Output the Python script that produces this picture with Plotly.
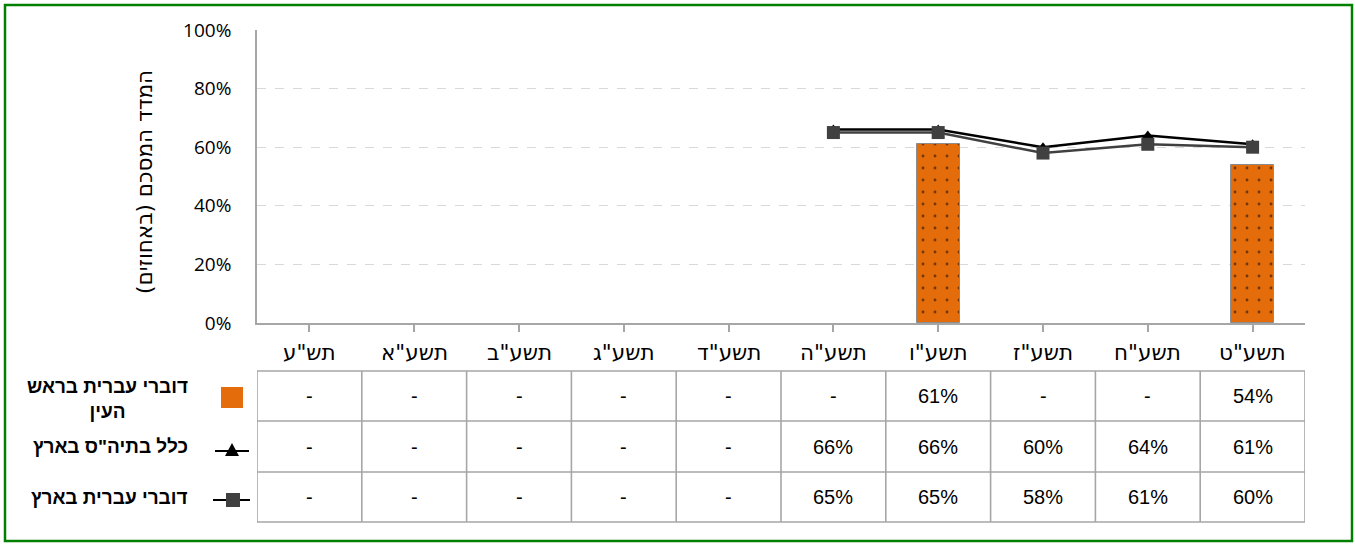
import plotly.graph_objects as go

# School years (Hebrew calendar), left to right
years = ['תש"ע', 'תשע"א', 'תשע"ב', 'תשע"ג', 'תשע"ד', 'תשע"ה', 'תשע"ו', 'תשע"ז', 'תשע"ח', 'תשע"ט']

# Composite index (%) per series; None = no measurement that year
rosh_haayin = [None, None, None, None, None, None, 61, None, None, 54]
all_schools = [None, None, None, None, None, 66, 66, 60, 64, 61]
hebrew_national = [None, None, None, None, None, 65, 65, 58, 61, 60]

series_names = ['דוברי עברית בראש<br>העין', 'כלל בתיה"ס בארץ', 'דוברי עברית בארץ']
y_title = 'המדד המסכם (באחוזים)'
y_ticks = [0, 20, 40, 60, 80, 100]

W, H = 1355, 544
ORANGE = '#E46C0A'
GRID = '#A6A6A6'
FONT = 'Liberation Sans, Arial, sans-serif'
HEB = 'DejaVu Sans, sans-serif'


def px(x):
    return x / W


def py(y):
    return 1 - y / H


x_idx = list(range(len(years)))

fig = go.Figure()

fig.add_trace(go.Bar(
    x=x_idx, y=rosh_haayin, width=0.41,
    marker=dict(color=ORANGE, line=dict(color='#8C8C8C', width=1),
                pattern=dict(shape='.', fgcolor='black', bgcolor=ORANGE,
                             size=12, solidity=0.045, fillmode='overlay')),
    showlegend=False, hoverinfo='skip'))

fig.add_trace(go.Scatter(
    x=x_idx, y=all_schools, mode='lines+markers',
    line=dict(color='black', width=2.5),
    marker=dict(symbol='triangle-up', size=10, color='black'),
    showlegend=False, hoverinfo='skip'))

fig.add_trace(go.Scatter(
    x=x_idx, y=hebrew_national, mode='lines+markers',
    line=dict(color='#404040', width=2.5),
    marker=dict(symbol='square', size=13, color='#404040'),
    showlegend=False, hoverinfo='skip'))

n = len(years)
shapes = []
annotations = []

# Data table rows beneath the axis
row_tops = [371, 421, 472, 522]
for yy in row_tops:
    shapes.append(dict(type='line', xref='x', yref='paper', x0=-0.5, x1=n - 0.5,
                       y0=py(yy), y1=py(yy), line=dict(color=GRID, width=1.6)))
for i in range(n + 1):
    shapes.append(dict(type='line', xref='x', yref='paper', x0=i - 0.5, x1=i - 0.5,
                       y0=py(row_tops[0]), y1=py(row_tops[-1]), line=dict(color=GRID, width=1.6)))

rows = [rosh_haayin, all_schools, hebrew_national]
label_shift = [3, 0, 0]
for r, vals in enumerate(rows):
    yc = (row_tops[r] + row_tops[r + 1]) / 2
    for i, v in enumerate(vals):
        annotations.append(dict(x=i, y=py(yc), xref='x', yref='paper', showarrow=False,
                                yanchor='middle', text='-' if v is None else f'{v}%',
                                font=dict(family=FONT, size=20, color='black')))
    annotations.append(dict(x=px(190), y=py(yc + label_shift[r]), xref='paper', yref='paper',
                            showarrow=False, xanchor='right', yanchor='middle', align='center',
                            text=f'<b>{series_names[r]}</b>',
                            font=dict(family=FONT, size=19, color='black')))

# Category labels
for i, name in enumerate(years):
    annotations.append(dict(x=i, y=py(352), xref='x', yref='paper', showarrow=False,
                            yanchor='middle', text=name,
                            font=dict(family=HEB, size=21.5, color='black')))

# Legend keys inside the table
shapes.append(dict(type='rect', xref='paper', yref='paper', x0=px(221), x1=px(243),
                   y0=py(408), y1=py(387), line=dict(width=0), fillcolor=ORANGE))
shapes.append(dict(type='line', xref='paper', yref='paper', x0=px(215), x1=px(249),
                   y0=py(451), y1=py(451), line=dict(color='black', width=2)))
shapes.append(dict(type='path', xref='paper', yref='paper',
                   path=f'M {px(225)},{py(456)} L {px(239)},{py(456)} L {px(232)},{py(443)} Z',
                   fillcolor='black', line=dict(width=0)))
shapes.append(dict(type='line', xref='paper', yref='paper', x0=px(213), x1=px(250),
                   y0=py(500), y1=py(500), line=dict(color='black', width=2)))
shapes.append(dict(type='rect', xref='paper', yref='paper', x0=px(226), x1=px(240),
                   y0=py(507), y1=py(493), fillcolor='#404040', line=dict(width=0)))

# Outer frame
shapes.append(dict(type='rect', xref='paper', yref='paper', x0=px(5), x1=px(1352),
                   y0=py(541), y1=py(5), line=dict(color='#008000', width=2.5)))

# Y-axis title, rotated
annotations.append(dict(x=px(145), y=py(182), xref='paper', yref='paper', showarrow=False,
                        xanchor='center', yanchor='middle', textangle=-90, text=y_title,
                        font=dict(family=HEB, size=21.5, color='black')))

fig.update_layout(
    width=W, height=H, autosize=False,
    margin=dict(l=0, r=0, t=0, b=0, pad=0),
    paper_bgcolor='white', plot_bgcolor='white',
    shapes=shapes, annotations=annotations,
    bargap=0, font=dict(family=FONT),
    xaxis=dict(domain=[px(257), px(1305)], range=[-0.5, n - 0.5], automargin=False,
               showticklabels=False, showgrid=False, zeroline=False,
               showline=True, linecolor=GRID, linewidth=1.6,
               ticks='outside', tickson='boundaries', ticklen=7, tickcolor=GRID,
               tickwidth=1.6, tickvals=x_idx),
    yaxis=dict(domain=[py(323), py(30)], range=[0, 100], automargin=False,
               tickvals=y_ticks, ticktext=[f'{t}%' for t in y_ticks],
               tickfont=dict(family='Open Sans, sans-serif', size=19, color='black'),
               ticklabelstandoff=20,
               showgrid=True, gridcolor='#D9D9D9', griddash='dash', gridwidth=1,
               showline=True, linecolor=GRID, linewidth=1.6, zeroline=False),
)

fig.write_html('out.html')
